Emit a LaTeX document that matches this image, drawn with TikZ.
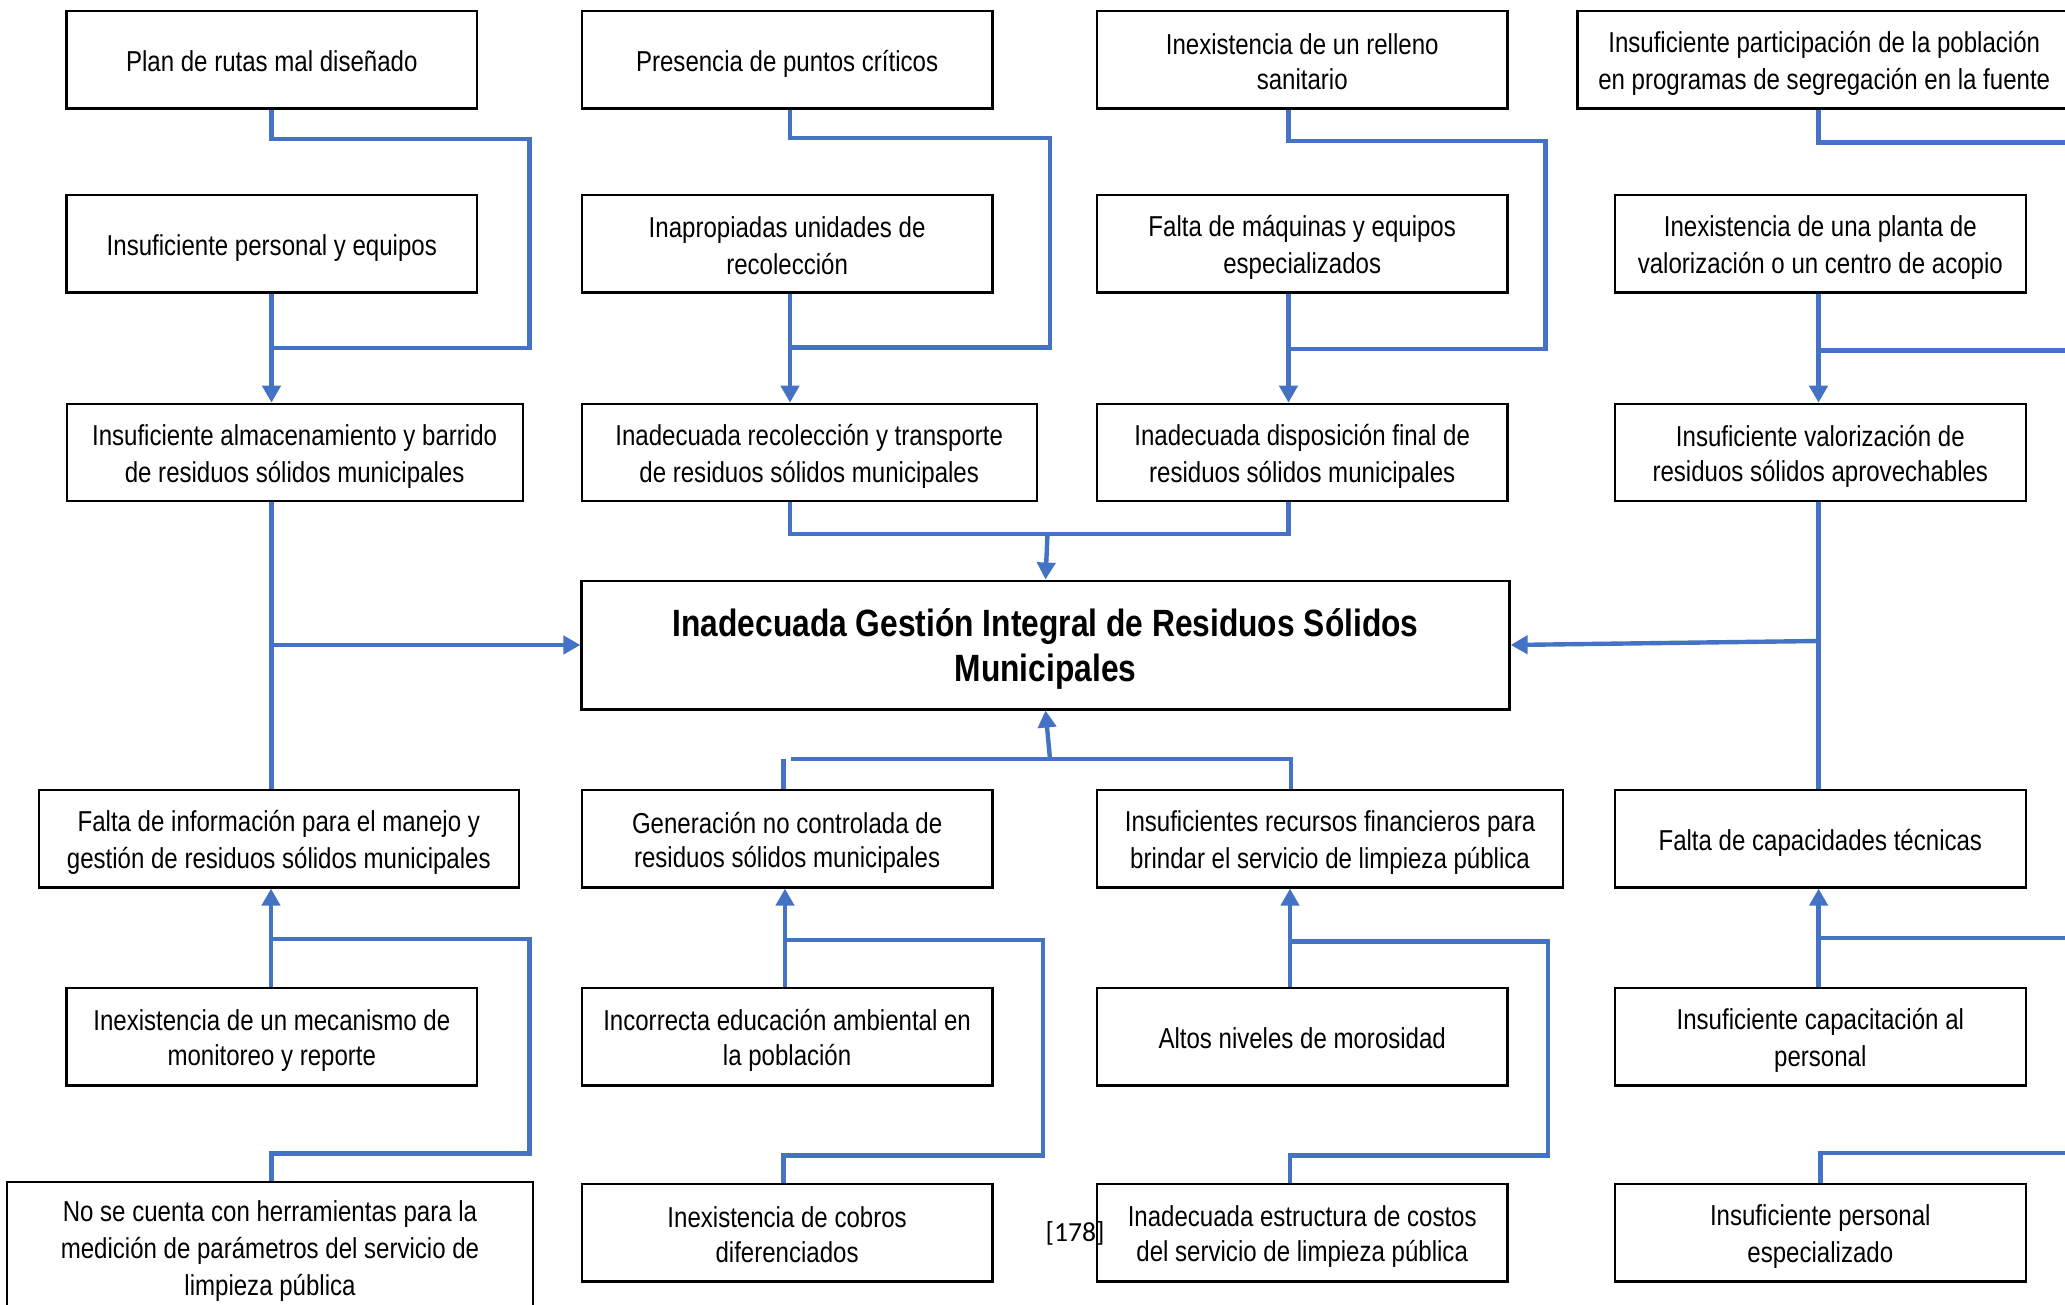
\documentclass[tikz,border=0pt]{standalone}
\usepackage{fontspec}
\newfontfamily\nfont{Liberation Sans}[FakeStretch=0.835]
\newfontfamily\cfont{Carlito}
\usetikzlibrary{arrows.meta,calc}
\definecolor{cblue}{HTML}{4472C4}
\newcommand\zs{\rule[-0.15em]{0pt}{1.15em}}
\newcommand\zb{\rule[-0.19em]{0pt}{1.13em}}
\tikzset{
  box/.style={draw=black, line width=1.1pt, align=center, inner sep=1pt, fill=white,
    minimum height=48.7pt, font=\nfont\fontsize{14.4pt}{17.2pt}\selectfont},
  colw/.style={minimum width=205.3pt},
  conn/.style={draw=cblue, line width=2.2pt},
  arr/.style={conn, -{Triangle[length=8.5pt,width=9pt]}},
}
\begin{document}
\begin{tikzpicture}[x=0.5pt,y=-0.5pt]
\useasboundingbox (0,0) rectangle (2065,1305);
\fill[white] (0,0) rectangle (2065,1305);
\begin{scope}
\clip (0,0) rectangle (2065,1305);
% ---------- boxes ----------
\node[box,colw] (A1) at (271.8,59.75) {\zs Plan de rutas mal diseñado};
\node[box,colw] (B1) at (787.1,59.75) {\zs Presencia de puntos críticos};
\node[box,colw] (C1) at (1302.2,59.75) {\zs Inexistencia de un relleno\\\zs sanitario};
\node[box,minimum width=246.8pt] (D1) at (1824.2,59.75) {\zs Insuficiente participación de la población\\\zs en programas de segregación en la fuente};
\node[box,colw] (A2) at (271.8,243.75) {\zs Insuficiente personal y equipos};
\node[box,colw] (B2) at (787.1,243.75) {\zs Inapropiadas unidades de\\\zs recolección};
\node[box,colw] (C2) at (1302.2,243.75) {\zs Falta de máquinas y equipos\\\zs especializados};
\node[box,colw] (D2) at (1820.3,243.75) {\zs Inexistencia de una planta de\\\zs valorización o un centro de acopio};
\node[box,minimum width=228pt] (A3) at (294.6,452.5) {\zs Insuficiente almacenamiento y barrido\\\zs de residuos sólidos municipales};
\node[box,minimum width=227.6pt] (B3) at (809.2,452.5) {\zs Inadecuada recolección y transporte\\\zs de residuos sólidos municipales};
\node[box,colw] (C3) at (1302.2,452.5) {\zs Inadecuada disposición final de\\\zs residuos sólidos municipales};
\node[box,colw] (D3) at (1820.3,452.5) {\zs Insuficiente valorización de\\\zs residuos sólidos aprovechables};
\node[box,minimum width=464pt,minimum height=64.4pt,
  font=\nfont\bfseries\fontsize{19pt}{21.8pt}\selectfont] (Ctr) at (1045.5,645)
  {\zb Inadecuada Gestión Integral de Residuos Sólidos\\\zb Municipales};
\node[box,minimum width=240.2pt] (A4) at (278.8,838.8) {\zs Falta de información para el manejo y\\\zs gestión de residuos sólidos municipales};
\node[box,colw] (B4) at (787.1,838.8) {\zs Generación no controlada de\\\zs residuos sólidos municipales};
\node[box,minimum width=233pt] (C4) at (1330,838.8) {\zs Insuficientes recursos financieros para\\\zs brindar el servicio de limpieza pública};
\node[box,colw] (D4) at (1820.3,838.8) {\zs Falta de capacidades técnicas};
\node[box,colw] (A5) at (271.8,1036.7) {\zs Inexistencia de un mecanismo de\\\zs monitoreo y reporte};
\node[box,colw] (B5) at (787.1,1036.7) {\zs Incorrecta educación ambiental en\\\zs la población};
\node[box,colw] (C5) at (1302.2,1036.7) {\zs Altos niveles de morosidad};
\node[box,colw] (D5) at (1820.3,1036.7) {\zs Insuficiente capacitación al\\\zs personal};
\node[box,minimum width=263pt,minimum height=65pt] (A6) at (270,1247) {\zs No se cuenta con herramientas para la\\\zs medición de parámetros del servicio de\\\zs limpieza pública};
\node[box,colw] (B6) at (787.1,1232.7) {\zs Inexistencia de cobros\\\zs diferenciados};
\node[box,colw] (C6) at (1302.2,1232.7) {\zs Inadecuada estructura de costos\\\zs del servicio de limpieza pública};
\node[box,colw] (D6) at (1820.3,1232.7) {\zs Insuficiente personal\\\zs especializado};
% ---------- x positions of connector lines ----------
\coordinate (xA) at (271.5,0);
\coordinate (xB) at (790,0);
\coordinate (xC) at (1288.5,0);
\coordinate (xD) at (1818.5,0);
% ---------- top groups ----------
\coordinate (a1) at (529.6,139.3); \coordinate (a2) at (529.6,348);
\draw[conn] (A1.south -| xA) |- (a1) -- (a2) -- (a2 -| xA);
\draw[arr] (A2.south -| xA) -- (A3.north -| xA);
\coordinate (b1) at (1050,138); \coordinate (b2) at (1050,347.5);
\draw[conn] (B1.south -| xB) |- (b1) -- (b2) -- (b2 -| xB);
\draw[arr] (B2.south -| xB) -- (B3.north -| xB);
\coordinate (c1) at (1545.5,141); \coordinate (c2) at (1545.5,349);
\draw[conn] (C1.south -| xC) |- (c1) -- (c2) -- (c2 -| xC);
\draw[arr] (C2.south -| xC) -- (C3.north -| xC);
\coordinate (d1) at (2075,142.6); \coordinate (d2) at (2075,350.6);
\draw[conn] (D1.south -| xD) |- (d1);
\draw[arr] (D2.south -| xD) -- (D3.north -| xD);
\draw[conn] (d2 -| xD) -- (d2);
% ---------- into the central problem ----------
\draw[conn] (A3.south -| xA) -- (A4.north -| xA);
\draw[arr] (xA |- Ctr.west) -- (Ctr.west);
\coordinate (m1) at (1047.5,534);
\draw[conn] (B3.south -| xB) |- (m1) -| (C3.south -| xC);
\draw[arr] (m1) -- (Ctr.north);
\coordinate (xB4) at (783.6,0);
\coordinate (m2) at (1050,759);
\coordinate (m2l) at (791,759);
\coordinate (xC4) at (1290.8,0);
\draw[conn] (B4.north -| xB4) -- (xB4 |- m2);
\draw[conn] (m2l) -| (C4.north -| xC4);
\draw[arr] (m2) -- (Ctr.south);
\coordinate (xD3) at (1818.6,0);
\coordinate (m3) at (1818.6,641);
\draw[conn] (D3.south -| xD3) -- (D4.north -| xD3);
\draw[arr] (m3) -- (Ctr.east);
% ---------- bottom groups ----------
\coordinate (xA5) at (271,0);
\draw[arr] (A5.north -| xA5) -- (A4.south -| xA5);
\coordinate (a5a) at (271,939); \coordinate (a5b) at (529.6,939); \coordinate (a5c) at (529.6,1153.5);
\draw[conn] (a5a) -- (a5b) -- (a5c) -| (A6.north -| xA);
\coordinate (xB5) at (785,0);
\draw[arr] (B5.north -| xB5) -- (B4.south -| xB5);
\coordinate (b5a) at (785,940); \coordinate (b5b) at (1043,940); \coordinate (b5c) at (1043,1155.5);
\draw[conn] (b5a) -- (b5b) -- (b5c) -| (B6.north -| xB4);
\coordinate (xC5) at (1290,0);
\draw[arr] (C5.north -| xC5) -- (C4.south -| xC5);
\coordinate (c5a) at (1290,941.5); \coordinate (c5b) at (1548,941.5); \coordinate (c5c) at (1548,1155.5);
\draw[conn] (c5a) -- (c5b) -- (c5c) -| (C6.north -| xC5);
\coordinate (xD5) at (1818.6,0);
\draw[arr] (D5.north -| xD5) -- (D4.south -| xD5);
\coordinate (d5r) at (2075,937.9);
\draw[conn] (d5r -| xD5) -- (d5r);
\coordinate (xD6) at (1820.6,0);
\coordinate (d6r) at (2075,1153);
\draw[conn] (D6.north -| xD6) |- (d6r);
% ---------- page label ----------
\node[inner sep=0, font=\cfont\fontsize{13.8pt}{16pt}\selectfont] (ref) at (1075,1233) {[178]};
\end{scope}
\end{tikzpicture}
\end{document}
